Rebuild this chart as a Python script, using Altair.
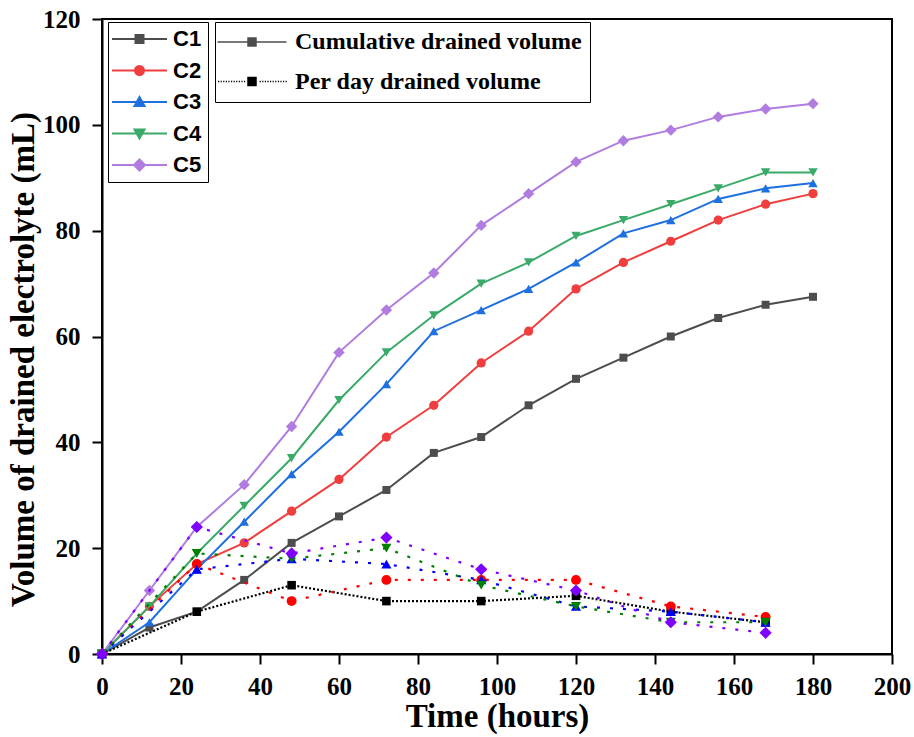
import altair as alt
import pandas as pd

# ---------------- data ----------------
hours = [0, 12, 24, 36, 48, 60, 72, 84, 96, 108, 120, 132, 144, 156, 168, 180]
c1_cum = [0, 5, 8, 14, 21, 26, 31, 38, 41, 47, 52, 56, 60, 63.5, 66, 67.5]
c2_cum = [0, 9, 17, 21, 27, 33, 41, 47, 55, 61, 69, 74, 78, 82, 85, 87]
c3_cum = [0, 6, 16, 25, 34, 42, 51, 61, 65, 69, 74, 79.5, 82, 86, 88, 89]
c4_cum = [0, 9, 19, 28, 37, 48, 57, 64, 70, 74, 79, 82, 85, 88, 91, 91]
c5_cum = [0, 12, 24, 32, 43, 57, 65, 72, 81, 87, 93, 97, 99, 101.5, 103, 104]

day_hours = [0, 24, 48, 72, 96, 120, 144, 168]
c1_day = [0, 8, 13, 10, 10, 11, 8, 6]
c2_day = [0, 17, 10, 14, 14, 14, 9, 7]
c3_day = [0, 16, 18, 17, 14, 9, 8, 6]
c4_day = [0, 19, 18, 20, 13, 9, 6, 6]
c5_day = [0, 24, 19, 22, 16, 12, 6, 4]

series = ["C1", "C2", "C3", "C4", "C5"]
volume_types = ["Cumulative drained volume", "Per day drained volume"]

cum_values = [c1_cum, c2_cum, c3_cum, c4_cum, c5_cum]
day_values = [c1_day, c2_day, c3_day, c4_day, c5_day]

# ---------------- styles ----------------
cum_colors = ["#4d4d4d", "#f03e3e", "#1e6fdf", "#3aaa68", "#b07ce0"]
day_colors = ["#000000", "#ff0000", "#0000ff", "#008000", "#8000ff"]
shapes = ["square", "circle", "triangle-up", "triangle-down", "diamond"]
sizes = [64, 85, 90, 90, 130]
day_dash = [[2, 2], [3, 10], [3, 10], [3, 10], [3, 10]]

SERIF = "Liberation Serif"
SANS = "Liberation Sans"

cum_df = pd.DataFrame(
    [{"hour": h, "value": v, "series": s}
     for s, vals in zip(series, cum_values) for h, v in zip(hours, vals)]
)
day_df = pd.DataFrame(
    [{"hour": h, "value": v, "series": s}
     for s, vals in zip(series, day_values) for h, v in zip(day_hours, vals)]
)

x_enc = alt.X(
    "hour:Q",
    scale=alt.Scale(domain=[0, 200], nice=False),
    axis=alt.Axis(values=list(range(0, 201, 20)), title="Time (hours)"),
)
y_enc = alt.Y(
    "value:Q",
    scale=alt.Scale(domain=[0, 120], nice=False),
    axis=alt.Axis(values=list(range(0, 121, 20)), titleY=340,
                  title="Volume of drained electrolyte (mL)"),
)

layers = []
for i, s in enumerate(series):
    base = alt.Chart(cum_df).transform_filter(alt.datum.series == s)
    layers.append(base.mark_line(color=cum_colors[i], strokeWidth=2).encode(x=x_enc, y=y_enc))
    layers.append(base.mark_point(shape=shapes[i], filled=True, size=sizes[i],
                                  color=cum_colors[i], opacity=1).encode(x=x_enc, y=y_enc))
for i, s in enumerate(series):
    base = alt.Chart(day_df).transform_filter(alt.datum.series == s)
    layers.append(base.mark_line(color=day_colors[i], strokeWidth=2.2,
                                 strokeDash=day_dash[i]).encode(x=x_enc, y=y_enc))
    layers.append(base.mark_point(shape=shapes[i], filled=True, size=sizes[i] * 1.15,
                                  color=day_colors[i], opacity=1).encode(x=x_enc, y=y_enc))

# ---------------- legend symbols (line + marker paths, in px) ----------------
marker_paths = [
    "M-4,-4H4V4H-4Z",
    "M-4.5,0A4.5,4.5,0,1,1,4.5,0A4.5,4.5,0,1,1,-4.5,0Z",
    "M0,-5L5,4H-5Z",
    "M0,5L5,-4H-5Z",
    "M0,-5.5L5.5,0L0,5.5L-5.5,0Z",
]
leg1_paths = ["M-27.5,0H27.5" + m for m in marker_paths]

dots = ""
xx = -34.0
while xx < 34:
    if abs(xx) > 5.5 and abs(xx + 1.2) > 5.5:
        dots += "M%.1f,0h1.2" % xx
    xx += 2.6
leg2_paths = ["M-34.5,0H34.5M-4,-4H4V4H-4Z", dots + "M-4,-4H4V4H-4Z"]
leg2_colors = ["#4d4d4d", "#000000"]


def legend(x, y, font, fsize, pad, sym_off, lab_off, row_pad, stroke_w):
    return alt.Legend(
        title=None, orient="none", legendX=x, legendY=y, direction="vertical",
        strokeColor="black", fillColor="white", padding=pad,
        labelFont=font, labelFontSize=fsize, labelFontWeight="bold",
        labelColor="black", labelLimit=0, labelOffset=lab_off,
        symbolSize=4, symbolOffset=sym_off, symbolOpacity=1,
        symbolStrokeWidth=stroke_w, rowPadding=row_pad,
    )


leg1 = legend(6, 3, SANS, 22, 6, 14.5, 22.5, 9.5, 2)
leg1_df = pd.DataFrame({"series": series})
leg1_layer = alt.Chart(leg1_df).mark_point(opacity=0).encode(
    fill=alt.Fill("series:N", scale=alt.Scale(domain=series, range=cum_colors), legend=leg1),
    stroke=alt.Stroke("series:N", scale=alt.Scale(domain=series, range=cum_colors), legend=leg1),
    shape=alt.Shape("series:N", scale=alt.Scale(domain=series, range=leg1_paths), legend=leg1),
)

leg2 = legend(113, 3, SERIF, 24, 8, 17, 31, 15.5, 1.5)
leg2_df = pd.DataFrame({"kind": volume_types})
leg2_layer = alt.Chart(leg2_df).mark_point(opacity=0).encode(
    fill=alt.Fill("kind:N", scale=alt.Scale(domain=volume_types, range=leg2_colors), legend=leg2),
    stroke=alt.Stroke("kind:N", scale=alt.Scale(domain=volume_types, range=leg2_colors), legend=leg2),
    shape=alt.Shape("kind:N", scale=alt.Scale(domain=volume_types, range=leg2_paths), legend=leg2),
)

chart = (
    alt.layer(*layers, leg1_layer, leg2_layer)
    .resolve_scale(fill="independent", stroke="independent", shape="independent")
    .resolve_legend(fill="independent", stroke="independent", shape="independent")
    .properties(
        width=790, height=635,
        autosize=alt.AutoSizeParams(type="none"),
        padding={"left": 102, "top": 19, "right": 22, "bottom": 83},
        background="white",
    )
    .configure_view(stroke="black", strokeWidth=2)
    .configure_axis(
        grid=False, domainColor="black", domainWidth=2,
        tickColor="black", tickWidth=2, tickSize=10, labelFlush=False,
        labelFont=SERIF, labelFontSize=25, labelFontWeight="bold", labelColor="black",
        titleFont=SERIF, titleFontSize=33, titleFontWeight="bold", titleColor="black",
    )
    .configure_axisX(labelPadding=10, titlePadding=1)
    .configure_axisY(labelPadding=12, titlePadding=2)
)

chart.save("out.html", embed_options={"renderer": "svg", "actions": False})
